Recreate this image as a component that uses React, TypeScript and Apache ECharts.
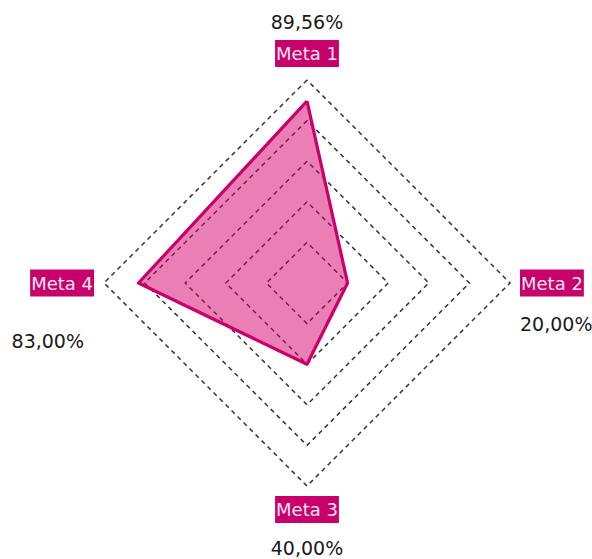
import React, { useEffect, useRef } from "react";
import * as echarts from "echarts";

const categories = ["Meta 1", "Meta 2", "Meta 3", "Meta 4"];
const values = [89.56, 20, 40, 83];
const valueLabels = ["89,56%", "20,00%", "40,00%", "83,00%"];

// ECharts places indicators counter-clockwise from the top; reorder so that
// Meta 1 is on top, Meta 2 right, Meta 3 bottom, Meta 4 left.
const order = [0, 3, 2, 1];

const FONT = "DejaVu Sans";

export default function App() {
  const ref = useRef<HTMLDivElement>(null);
  useEffect(() => {
    if (!ref.current) return;
    const chart = echarts.init(ref.current, null, { renderer: "svg" });
    const indicator = order.map((i) => ({ name: categories[i], max: 100, min: 0 }));
    const data = order.map((i) => values[i]);
    chart.setOption({
      animation: false,
      backgroundColor: "#ffffff",
      radar: {
        center: [307, 283],
        radius: 203,
        startAngle: 90,
        shape: "polygon",
        splitNumber: 5,
        indicator,
        nameGap: 10,
        axisLine: { show: false },
        axisTick: { show: false },
        splitArea: { show: false },
        splitLine: {
          lineStyle: { color: "#333333", width: 1.5, type: [4.5, 4] },
        },
        axisName: {
          fontFamily: FONT,
          formatter: (name: string) => {
            const i = categories.indexOf(name);
            const v = valueLabels[i];
            if (i === 0) return `{valT|${v}}\n{name|${name}}\n{sp| }`;
            if (i === 1) return `{gapR| }\n{name|${name}}\n{valR|${v}}`;
            if (i === 2) return `{name|${name}}\n{valB|${v}}`;
            return `{gapL| }\n{name|${name}}\n{valL|${v}}`;
          },
          rich: {
            name: {
              fontFamily: FONT,
              fontSize: 18,
              color: "#fde6f1",
              backgroundColor: "#C8006B",
              height: 27,
              lineHeight: 27,
              padding: [0, 1],
            },
            sp: { fontSize: 1, lineHeight: 3, height: 3 },
            valT: { fontFamily: FONT, fontSize: 19, color: "#1a1a1a", lineHeight: 36 },
            gapR: { fontSize: 1, lineHeight: 54, height: 54 },
            valR: { fontFamily: FONT, fontSize: 19, color: "#1a1a1a", lineHeight: 54, padding: [0, 0, 0, 0] },
            valB: { fontFamily: FONT, fontSize: 19, color: "#1a1a1a", lineHeight: 50 },
            gapL: { fontSize: 1, lineHeight: 88, height: 88 },
            valL: {
              fontFamily: FONT,
              fontSize: 19,
              color: "#1a1a1a",
              lineHeight: 88,
              padding: [0, 10, 0, 0],
            },
          },
        },
      },
      series: [
        {
          type: "radar",
          symbol: "none",
          data: [
            {
              value: data,
              lineStyle: { color: "#C8006B", width: 3.2 },
              areaStyle: { color: "#D4006A", opacity: 0.5 },
            },
          ],
        },
      ],
    });
    return () => chart.dispose();
  }, []);
  return (
    <div
      ref={ref}
      style={{ position: "fixed", left: 0, top: 0, width: 592, height: 559 }}
    />
  );
}
